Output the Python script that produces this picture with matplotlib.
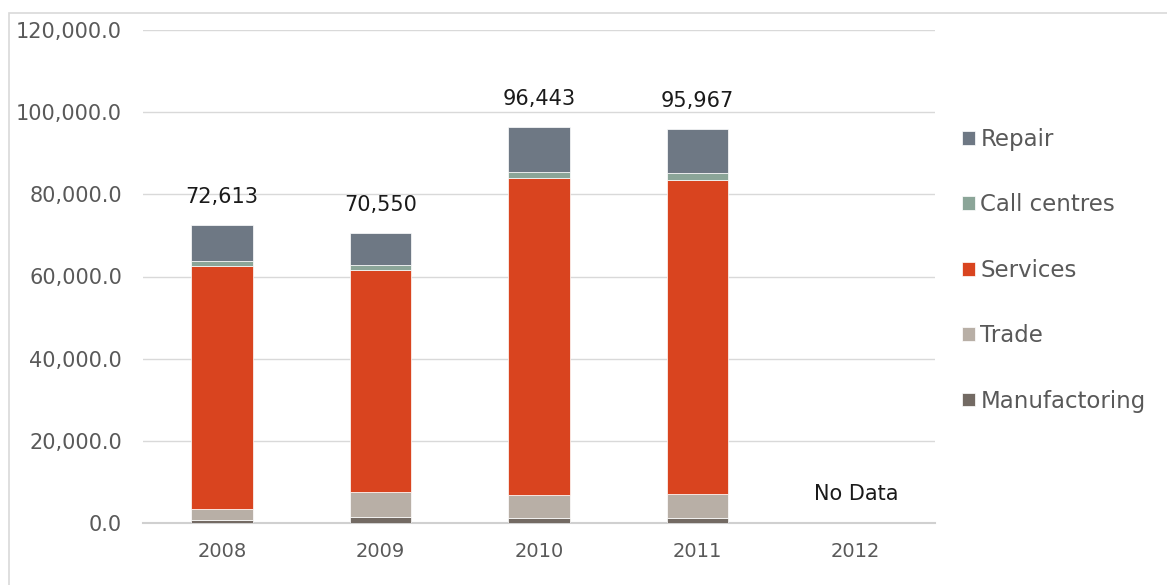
import matplotlib.pyplot as plt
from matplotlib.patches import Rectangle
import numpy as np

years = ['2008', '2009', '2010', '2011', '2012']
manufactoring = [650, 1400, 1300, 1200, 0]
trade = [2750, 6150, 5500, 5800, 0]
services = [59200, 54150, 77200, 76600, 0]
call_centres = [1200, 1100, 1400, 1500, 0]
repair = [8813, 7750, 11043, 10867, 0]
totals = [72613, 70550, 96443, 95967, None]

series = [
    ('Manufactoring', manufactoring, '#736A63'),
    ('Trade', trade, '#B8AFA6'),
    ('Services', services, '#D9441F'),
    ('Call centres', call_centres, '#8BA598'),
    ('Repair', repair, '#6E7884'),
]

plt.rcParams['font.family'] = ['DejaVu Sans']

fig = plt.figure(figsize=(11.67, 5.85), dpi=100)
ax = fig.add_axes([143 / 1167, 1 - 523 / 585, (935 - 143) / 1167, (523 - 30) / 585])

# outer chart border
fig.patches.append(Rectangle((9 / 1167, -0.1), 1.2, 1 - 13 / 585 + 0.1, transform=fig.transFigure,
                             fill=False, edgecolor='#D9D9D9', linewidth=1.2))

x = np.arange(len(years))
bottom = np.zeros(len(years))
handles = []
for name, vals, color in series:
    vals = np.array(vals, dtype=float)
    b = ax.bar(x, vals, 0.39, bottom=bottom, color=color, edgecolor='white', linewidth=0.5,
               label=name, zorder=3)
    handles.append(b)
    bottom += vals

for i, t in enumerate(totals):
    if t is None:
        ax.text(x[i], 7000, 'No Data', ha='center', va='center', fontsize=15, color='#1a1a1a')
    else:
        ax.annotate('{:,}'.format(t), (x[i], bottom[i]), xytext=(0, 20), textcoords='offset points',
                    ha='center', va='center', fontsize=15, color='#1a1a1a')

ax.set_xlim(-0.5, 4.5)
ax.set_ylim(0, 120000)
ax.set_yticks(np.arange(0, 120001, 20000))
ax.set_yticklabels(['{:,.1f}'.format(v) for v in np.arange(0, 120001, 20000)])
ax.set_xticks(x)
ax.set_xticklabels(years)
ax.tick_params(axis='both', length=0, labelsize=15, colors='#595959')
ax.tick_params(axis='x', labelsize=14, pad=14)
ax.tick_params(axis='y', pad=15)
ax.grid(axis='y', color='#D9D9D9', linewidth=1, zorder=0)
for s in ['top', 'right', 'left']:
    ax.spines[s].set_visible(False)
ax.spines['bottom'].set_color('#D0D0D0')
ax.spines['bottom'].set_linewidth(1.5)

leg = fig.legend(handles[::-1], [s[0] for s in series][::-1], loc='upper left',
                 bbox_to_anchor=(962 / 1167, 1 - 128 / 585), frameon=False, fontsize=16.5,
                 handlelength=0.55, handleheight=0.55, handletextpad=0.25, labelspacing=1.85,
                 borderaxespad=0, borderpad=0)
for t in leg.get_texts():
    t.set_color('#595959')

fig.savefig('out.png', dpi=100)
